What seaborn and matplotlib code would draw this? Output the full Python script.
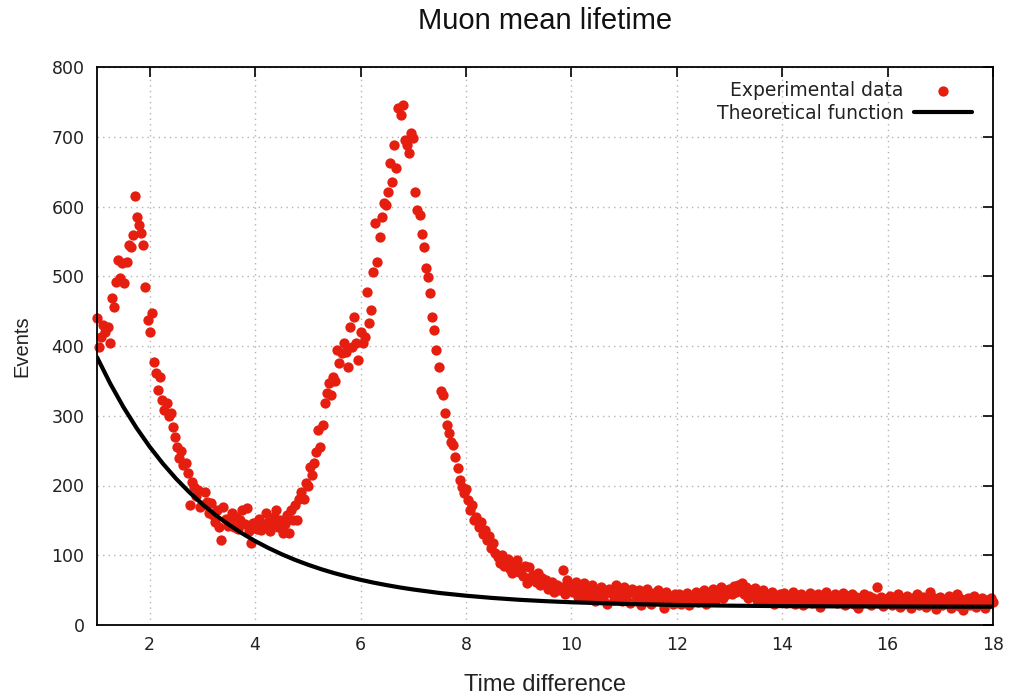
import numpy as np
import pandas as pd
import matplotlib
matplotlib.use("Agg")
import matplotlib.pyplot as plt
import seaborn as sns

# ---- data ----
step = 0.04
events = [
    # 1.00 - 1.96
    440, 398, 413, 430, 420, 427, 404, 469, 456, 492, 523, 497, 519, 490, 520,
    545, 542, 559, 615, 585, 573, 562, 545, 485, 437,
    # 2.00 - 2.96
    420, 447, 377, 361, 337, 355, 323, 308, 318, 300, 304, 284, 270, 255, 239,
    250, 229, 232, 218, 172, 205, 198, 185, 194, 169,
    # 3.00 - 3.96
    172, 191, 176, 160, 175, 158, 148, 165, 140, 122, 169, 152, 142, 150, 160,
    141, 155, 138, 150, 165, 145, 168, 135, 118, 146,
    # 4.00 - 4.96
    146, 138, 152, 136, 142, 160, 148, 135, 145, 155, 165, 140, 150, 132, 145,
    158, 132, 165, 150, 172, 150, 180, 190, 180, 203,
    # 5.00 - 5.96
    200, 227, 215, 232, 248, 280, 255, 287, 318, 333, 347, 330, 356, 350, 394,
    376, 390, 404, 392, 370, 427, 399, 442, 404, 380,
    # 6.00 - 6.96
    420, 405, 413, 477, 433, 452, 506, 576, 520, 556, 585, 605, 602, 621, 662,
    635, 688, 655, 741, 731, 746, 695, 688, 677, 705,
    # 7.00 - 7.96
    698, 621, 595, 588, 560, 542, 512, 499, 476, 442, 423, 394, 370, 335, 330,
    304, 287, 275, 262, 258, 241, 225, 208, 198, 189,
    # 8.00 - 8.96
    195, 179, 165, 172, 150, 155, 141, 148, 130, 136, 122, 128, 110, 118, 103,
    98, 89, 100, 85, 90, 95, 80, 75, 88, 93,
    # 9.00 - 9.96
    76, 82, 70, 85, 60, 83, 69, 72, 62, 75, 58, 68, 60, 65, 52,
    55, 62, 48, 58, 50, 55, 79, 45, 65, 52,
    # 10.00 - 10.96
    57, 48, 62, 40, 55, 45, 60, 38, 52, 44, 57, 35, 50, 42, 55,
    38, 48, 30, 52, 46, 36, 57, 42, 50, 34,
    # 11.00 - 11.96
    55, 40, 47, 32, 52, 44, 38, 50, 28, 45, 36, 52, 40, 30, 46,
    38, 50, 34, 43, 25, 47, 38, 42, 30, 45,
    # 12.00 - 12.96
    38, 44, 30, 40, 35, 46, 28, 42, 36, 48, 33, 44, 38, 50, 30,
    45, 40, 52, 35, 47, 42, 55, 38, 48, 44,
    # 13.00 - 13.96
    52, 45, 56, 48, 58, 50, 60, 44, 55, 38, 50, 42, 53, 36, 47,
    40, 50, 34, 45, 38, 48, 30, 42, 36, 45,
    # 14.00 - 14.96
    40, 46, 32, 42, 37, 48, 30, 43, 38, 45, 28, 40, 35, 46, 32,
    41, 37, 44, 26, 40, 35, 47, 33, 40, 36,
    # 15.00 - 15.96
    44, 31, 40, 36, 46, 29, 42, 35, 44, 30, 40, 24, 38, 33, 45,
    36, 42, 28, 38, 34, 54, 32, 40, 27, 37,
    # 16.00 - 16.96
    33, 42, 28, 38, 32, 44, 26, 36, 30, 42, 34, 24, 38, 31, 45,
    29, 36, 40, 26, 35, 48, 30, 38, 23, 34,
    # 17.00 - 18.00
    40, 28, 36, 31, 42, 25, 35, 30, 44, 27, 37, 22, 33, 38, 28,
    35, 42, 26, 34, 30, 38, 25, 36, 31, 38,
    33,
]
time_diff = np.round(1 + step * np.arange(len(events)), 2)

theory_x = [1.00, 1.25, 1.50, 1.75, 2.00, 2.25, 2.50, 2.75, 3.00, 3.25, 3.50,
            3.75, 4.00, 4.25, 4.50, 4.75, 5.00, 5.25, 5.50, 5.75, 6.00, 6.25,
            6.50, 6.75, 7.00, 7.50, 8.00, 8.50, 9.00, 9.50, 10.0, 11.0, 12.0,
            13.0, 14.0, 15.0, 16.0, 17.0, 18.0]
theory_y = [384.0, 346.3, 312.6, 282.5, 255.5, 231.4, 209.8, 190.5, 173.2,
            157.7, 143.9, 131.5, 120.4, 110.5, 101.6, 93.6, 86.5, 80.1, 74.4,
            69.4, 64.8, 60.7, 57.1, 53.8, 50.9, 45.9, 42.0, 38.8, 36.2, 34.2,
            32.6, 30.2, 28.7, 27.7, 27.1, 26.7, 26.5, 26.3, 26.2]

x_ticks = [2, 4, 6, 8, 10, 12, 14, 16, 18]
y_ticks = [0, 100, 200, 300, 400, 500, 600, 700, 800]

exp_df = pd.DataFrame({"Time difference": time_diff, "Events": events})
th_df = pd.DataFrame({"Time difference": theory_x, "Events": theory_y})

# ---- figure ----
sns.set_style("white")
plt.rcParams["font.family"] = ["DejaVu Sans"]

fig = plt.figure(figsize=(10.09, 6.99), dpi=100)
ax = fig.add_axes([97 / 1009, 1 - 625 / 699, (993 - 97) / 1009, (625 - 67) / 699])

red = "#e51e10"
sns.scatterplot(data=exp_df, x="Time difference", y="Events", ax=ax,
                color=red, s=55, linewidth=0, alpha=1.0,
                label="Experimental data", zorder=3, clip_on=False)
sns.lineplot(data=th_df, x="Time difference", y="Events", ax=ax,
             color="black", linewidth=3.0, label="Theoretical function",
             zorder=4)

ax.set_xlim(1, 18)
ax.set_ylim(0, 800)
ax.set_xticks(x_ticks)
ax.set_yticks(y_ticks)

ax.grid(True, color="#b4b4b4", linestyle=(0, (1, 3)), linewidth=1.0)
ax.set_axisbelow(True)

for sp in ax.spines.values():
    sp.set_visible(True)
    sp.set_color("black")
    sp.set_linewidth(1.3)
    sp.set_zorder(5)

ax.tick_params(axis="both", which="major", direction="in", length=7,
               width=1.2, colors="black", labelcolor="#222222",
               labelsize=12.5, top=True, right=True)
ax.tick_params(axis="y", pad=9)
ax.tick_params(axis="x", pad=8)

label_font = ["Liberation Sans", "DejaVu Sans"]
ax.set_xlabel("Time difference", fontsize=17, color="#222222", family=label_font)
ax.set_ylabel("Events", fontsize=14.5, color="#222222", family=label_font)
ax.xaxis.set_label_coords(0.5, (625 - 674) / 558)
ax.yaxis.set_label_coords((31 - 97) / 896, 0.5)

fig.text(545 / 1009, 1 - 21 / 699, "Muon mean lifetime", ha="center",
         va="center", fontsize=21, color="#111111", family=label_font)

leg = ax.legend(loc="upper right", bbox_to_anchor=(0.985, 0.988),
                frameon=False, markerfirst=False, fontsize=13.5,
                handlelength=3.1, handletextpad=0.55, labelspacing=0.2,
                borderaxespad=0.0)
for t in leg.get_texts():
    t.set_color("#222222")

fig.savefig("out.png", dpi=100)
